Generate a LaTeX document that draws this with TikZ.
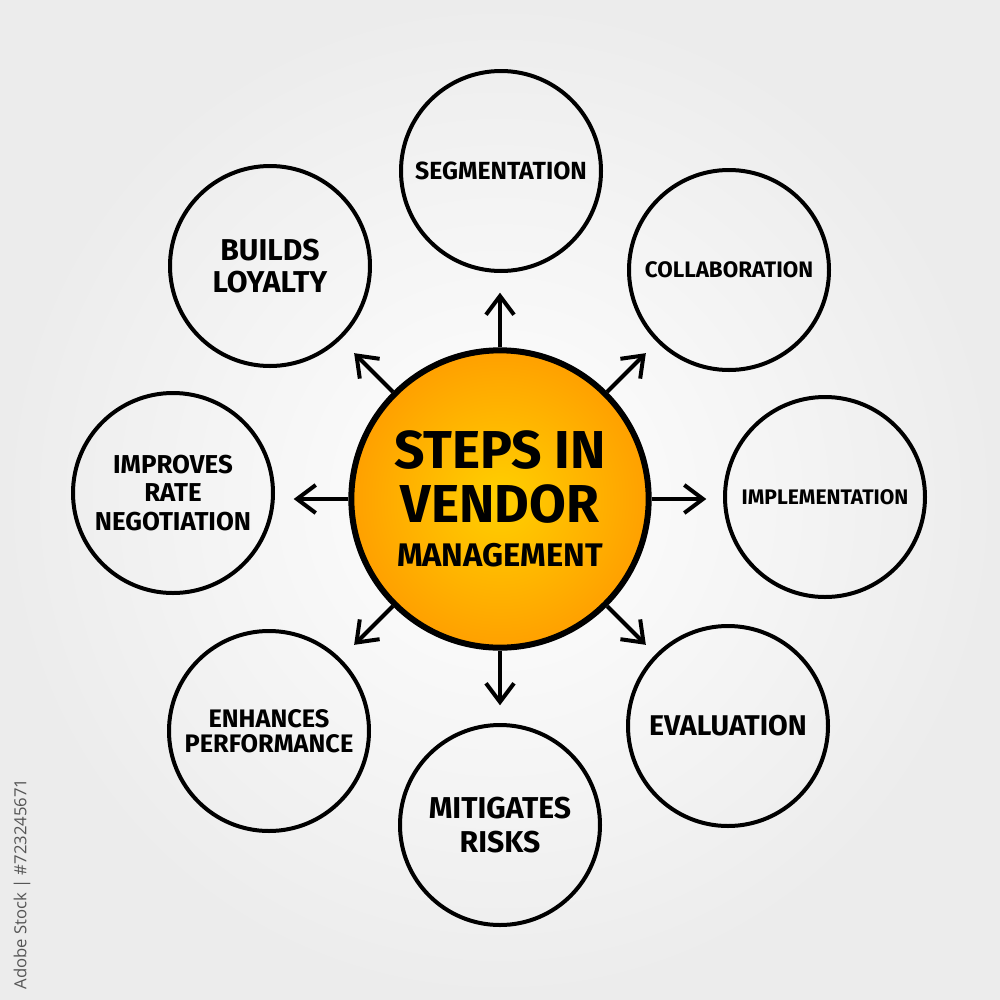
\documentclass[tikz,border=0pt]{standalone}
\usepackage{fontspec}
\setmainfont{Fira Sans}
\newfontfamily\stockfont{Open Sans}
\usetikzlibrary{arrows.meta,calc}

\definecolor{hubInner}{RGB}{255,208,0}
\definecolor{hubOuter}{RGB}{255,160,0}
\definecolor{bgOuter}{RGB}{236,236,236}
\definecolor{stockGray}{RGB}{85,85,85}

\tikzset{every picture/.style={line width=0.75pt}}
\tikzset{
  bubble/.style={circle, draw=black, line width=3pt, minimum size=150pt, inner sep=0pt, align=center},
  hubcircle/.style={circle, draw=black, line width=4.5pt, minimum size=223pt, inner sep=0pt, align=center,
    inner color=hubInner, outer color=hubOuter},
  spoke/.style={line width=3pt, -{Straight Barb[length=14pt,width=21pt,line width=3pt]}}
}

\begin{document}
\begin{tikzpicture}[x=0.75pt,y=0.75pt,yscale=-1,xscale=1]
  %Shape: Background
  \shade[inner color=white, outer color=bgOuter] (0,0) rectangle (1000,1000);
  \useasboundingbox (0,0) rectangle (1000,1000);

  %Shape: Circle (centre)
  \node [hubcircle, font=\bfseries\fontsize{40}{40.5}\selectfont] (hub) at (500,499)
    {STEPS IN\\VENDOR\\[-7pt]{\fontsize{24.5}{30}\selectfont MANAGEMENT}};

  %Shape: Circles (outer)
  \node [bubble, font=\bfseries\fontsize{18.6}{22}\selectfont] (segm) at (501,171) {SEGMENTATION};
  \node [bubble, font=\bfseries\fontsize{16.8}{20}\selectfont] (collab) at (729,270) {COLLABORATION};
  \node [bubble, font=\bfseries\fontsize{15.8}{19}\selectfont] (impl) at (825,497) {IMPLEMENTATION};
  \node [bubble, font=\bfseries\fontsize{21.4}{25}\selectfont] (eval) at (728,726) {EVALUATION};
  \node [bubble, font=\bfseries\fontsize{22.6}{26}\selectfont] (risks) at (500,825) {MITIGATES\\RISKS};
  \node [bubble, font=\bfseries\fontsize{19}{19}\selectfont] (perf) at (269,731) {ENHANCES\\PERFORMANCE};
  \node [bubble, font=\bfseries\fontsize{19.4}{21.5}\selectfont] (rate) at (173,493) {IMPROVES\\RATE\\NEGOTIATION};
  \node [bubble, font=\bfseries\fontsize{22.6}{24}\selectfont] (loyal) at (270,266) {BUILDS\\LOYALTY};

  %Arrows
  \foreach \ang/\tip in {90/N,45/NE,0/E,-45/SE,-90/S,-135/SW,180/W,135/NW}{
    \coordinate (tip\tip) at ($(hub.center)!1.36!(hub.\ang)$);
    \draw [spoke] (hub.\ang) -- (tip\tip);
  }

  %Text: stock id
  \node [rotate=90, anchor=west, text=stockGray, font=\stockfont\fontsize{12.5}{14}\selectfont, inner sep=0pt] (stockid) at (22,990) {Adobe Stock | \#723245671};
\end{tikzpicture}
\end{document}
